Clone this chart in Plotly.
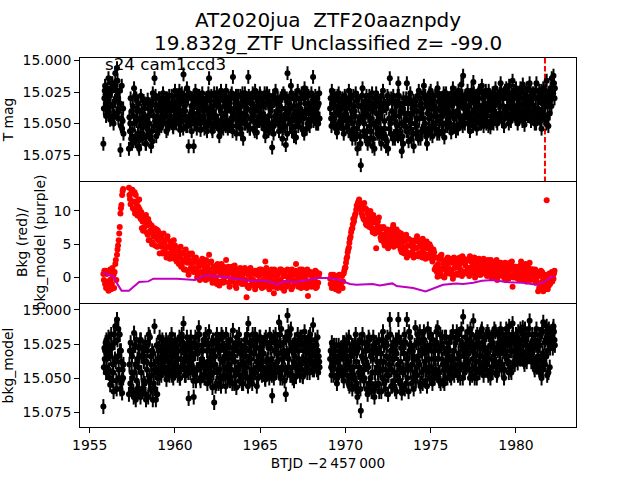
import plotly.graph_objects as go

# observation times (BTJD), first pass, one row per day
btjd = [
 1955.8,1955.9,
 1956.0,1956.1,1956.2,1956.3,1956.4,1956.5,1956.6,1956.7,1956.8,1956.9,
 1957.3,1957.4,1957.5,1957.6,1957.7,1957.8,1957.9,
 1958.0,1958.1,1958.2,1958.3,1958.4,1958.5,1958.6,1958.7,1958.8,1958.9,
 1959.0,1959.1,1959.2,1959.3,1959.4,1959.5,1959.6,1959.7,1959.8,1959.9,
 1960.0,1960.1,1960.2,1960.3,1960.4,1960.5,1960.6,1960.7,1960.8,1960.9,
 1961.0,1961.1,1961.2,1961.3,1961.4,1961.5,1961.6,1961.7,1961.8,1961.9,
 1962.0,1962.1,1962.2,1962.3,1962.4,1962.5,1962.6,1962.7,1962.8,1962.9,
 1963.0,1963.1,1963.2,1963.3,1963.4,1963.5,1963.6,1963.7,1963.8,1963.9,
 1964.0,1964.1,1964.2,1964.3,1964.4,1964.5,1964.6,1964.7,1964.8,1964.9,
 1965.0,1965.1,1965.2,1965.3,1965.4,1965.5,1965.6,1965.7,1965.8,1965.9,
 1966.0,1966.1,1966.2,1966.3,1966.4,1966.5,1966.6,1966.7,1966.8,1966.9,
 1967.0,1967.1,1967.2,1967.3,1967.4,1967.5,1967.6,1967.7,1967.8,1967.9,
 1968.0,1968.1,1968.2,1968.3,1968.4,
 1969.1,1969.2,1969.3,1969.4,1969.5,1969.6,1969.7,1969.8,1969.9,
 1970.0,1970.1,1970.2,1970.3,1970.4,1970.5,1970.6,1970.7,1970.8,1970.9,
 1971.0,1971.1,1971.2,1971.3,1971.4,1971.5,1971.6,1971.7,1971.8,1971.9,
 1972.0,1972.1,1972.2,1972.3,1972.4,1972.5,1972.6,1972.7,1972.8,1972.9,
 1973.0,1973.1,1973.2,1973.3,1973.4,1973.5,1973.6,1973.7,1973.8,1973.9,
 1974.0,1974.1,1974.2,1974.3,1974.4,1974.5,1974.6,1974.7,1974.8,1974.9,
 1975.0,1975.1,1975.2,1975.3,1975.4,1975.5,1975.6,1975.7,1975.8,1975.9,
 1976.0,1976.1,1976.2,1976.3,1976.4,1976.5,1976.6,1976.7,1976.8,1976.9,
 1977.0,1977.1,1977.2,1977.3,1977.4,1977.5,1977.6,1977.7,1977.8,1977.9,
 1978.0,1978.1,1978.2,1978.3,1978.4,1978.5,1978.6,1978.7,1978.8,1978.9,
 1979.0,1979.1,1979.2,1979.3,1979.4,1979.5,1979.6,1979.7,1979.8,1979.9,
 1980.0,1980.1,1980.2,1980.3,1980.4,1980.5,1980.6,1980.7,1980.8,1980.9,
 1981.0,1981.1,1981.2,1981.3,1981.4,1981.5,1981.6,1981.7,1981.8,1981.9,
 1982.0,1982.1,1982.2,
]
# second pass of cadences
btjd_b = [
 1955.83,1955.93,
 1956.03,1956.13,1956.23,1956.33,1956.43,1956.53,1956.63,1956.73,1956.83,1956.93,
 1957.33,1957.43,1957.53,1957.63,1957.73,1957.83,1957.93,
 1958.03,1958.13,1958.23,1958.33,1958.43,1958.53,1958.63,1958.73,1958.83,1958.93,
 1959.03,1959.13,1959.23,1959.33,1959.43,1959.53,1959.63,1959.73,1959.83,1959.93,
 1960.03,1960.13,1960.23,1960.33,1960.43,1960.53,1960.63,1960.73,1960.83,1960.93,
 1961.03,1961.13,1961.23,1961.33,1961.43,1961.53,1961.63,1961.73,1961.83,1961.93,
 1962.03,1962.13,1962.23,1962.33,1962.43,1962.53,1962.63,1962.73,1962.83,1962.93,
 1963.03,1963.13,1963.23,1963.33,1963.43,1963.53,1963.63,1963.73,1963.83,1963.93,
 1964.03,1964.13,1964.23,1964.33,1964.43,1964.53,1964.63,1964.73,1964.83,1964.93,
 1965.03,1965.13,1965.23,1965.33,1965.43,1965.53,1965.63,1965.73,1965.83,1965.93,
 1966.03,1966.13,1966.23,1966.33,1966.43,1966.53,1966.63,1966.73,1966.83,1966.93,
 1967.03,1967.13,1967.23,1967.33,1967.43,1967.53,1967.63,1967.73,1967.83,1967.93,
 1968.03,1968.13,1968.23,1968.33,1968.43,
 1969.13,1969.23,1969.33,1969.43,1969.53,1969.63,1969.73,1969.83,1969.93,
 1970.03,1970.13,1970.23,1970.33,1970.43,1970.53,1970.63,1970.73,1970.83,1970.93,
 1971.03,1971.13,1971.23,1971.33,1971.43,1971.53,1971.63,1971.73,1971.83,1971.93,
 1972.03,1972.13,1972.23,1972.33,1972.43,1972.53,1972.63,1972.73,1972.83,1972.93,
 1973.03,1973.13,1973.23,1973.33,1973.43,1973.53,1973.63,1973.73,1973.83,1973.93,
 1974.03,1974.13,1974.23,1974.33,1974.43,1974.53,1974.63,1974.73,1974.83,1974.93,
 1975.03,1975.13,1975.23,1975.33,1975.43,1975.53,1975.63,1975.73,1975.83,1975.93,
 1976.03,1976.13,1976.23,1976.33,1976.43,1976.53,1976.63,1976.73,1976.83,1976.93,
 1977.03,1977.13,1977.23,1977.33,1977.43,1977.53,1977.63,1977.73,1977.83,1977.93,
 1978.03,1978.13,1978.23,1978.33,1978.43,1978.53,1978.63,1978.73,1978.83,1978.93,
 1979.03,1979.13,1979.23,1979.33,1979.43,1979.53,1979.63,1979.73,1979.83,1979.93,
 1980.03,1980.13,1980.23,1980.33,1980.43,1980.53,1980.63,1980.73,1980.83,1980.93,
 1981.03,1981.13,1981.23,1981.33,1981.43,1981.53,1981.63,1981.73,1981.83,1981.93,
 1982.03,1982.13,1982.23,
]
# third pass of cadences
btjd_c = [
 1955.86,1955.96,
 1956.06,1956.16,1956.26,1956.36,1956.46,1956.56,1956.66,1956.76,1956.86,1956.96,
 1957.36,1957.46,1957.56,1957.66,1957.76,1957.86,1957.96,
 1958.06,1958.16,1958.26,1958.36,1958.46,1958.56,1958.66,1958.76,1958.86,1958.96,
 1959.06,1959.16,1959.26,1959.36,1959.46,1959.56,1959.66,1959.76,1959.86,1959.96,
 1960.06,1960.16,1960.26,1960.36,1960.46,1960.56,1960.66,1960.76,1960.86,1960.96,
 1961.06,1961.16,1961.26,1961.36,1961.46,1961.56,1961.66,1961.76,1961.86,1961.96,
 1962.06,1962.16,1962.26,1962.36,1962.46,1962.56,1962.66,1962.76,1962.86,1962.96,
 1963.06,1963.16,1963.26,1963.36,1963.46,1963.56,1963.66,1963.76,1963.86,1963.96,
 1964.06,1964.16,1964.26,1964.36,1964.46,1964.56,1964.66,1964.76,1964.86,1964.96,
 1965.06,1965.16,1965.26,1965.36,1965.46,1965.56,1965.66,1965.76,1965.86,1965.96,
 1966.06,1966.16,1966.26,1966.36,1966.46,1966.56,1966.66,1966.76,1966.86,1966.96,
 1967.06,1967.16,1967.26,1967.36,1967.46,1967.56,1967.66,1967.76,1967.86,1967.96,
 1968.06,1968.16,1968.26,1968.36,1968.46,
 1969.16,1969.26,1969.36,1969.46,1969.56,1969.66,1969.76,1969.86,1969.96,
 1970.06,1970.16,1970.26,1970.36,1970.46,1970.56,1970.66,1970.76,1970.86,1970.96,
 1971.06,1971.16,1971.26,1971.36,1971.46,1971.56,1971.66,1971.76,1971.86,1971.96,
 1972.06,1972.16,1972.26,1972.36,1972.46,1972.56,1972.66,1972.76,1972.86,1972.96,
 1973.06,1973.16,1973.26,1973.36,1973.46,1973.56,1973.66,1973.76,1973.86,1973.96,
 1974.06,1974.16,1974.26,1974.36,1974.46,1974.56,1974.66,1974.76,1974.86,1974.96,
 1975.06,1975.16,1975.26,1975.36,1975.46,1975.56,1975.66,1975.76,1975.86,1975.96,
 1976.06,1976.16,1976.26,1976.36,1976.46,1976.56,1976.66,1976.76,1976.86,1976.96,
 1977.06,1977.16,1977.26,1977.36,1977.46,1977.56,1977.66,1977.76,1977.86,1977.96,
 1978.06,1978.16,1978.26,1978.36,1978.46,1978.56,1978.66,1978.76,1978.86,1978.96,
 1979.06,1979.16,1979.26,1979.36,1979.46,1979.56,1979.66,1979.76,1979.86,1979.96,
 1980.06,1980.16,1980.26,1980.36,1980.46,1980.56,1980.66,1980.76,1980.86,1980.96,
 1981.06,1981.16,1981.26,1981.36,1981.46,1981.56,1981.66,1981.76,1981.86,1981.96,
 1982.06,1982.16,1982.26,
]
# fourth pass of cadences (black series only)
btjd_d = [
 1955.88,1955.98,
 1956.08,1956.18,1956.28,1956.38,1956.48,1956.58,1956.68,1956.78,1956.88,1956.98,
 1957.38,1957.48,1957.58,1957.68,1957.78,1957.88,1957.98,
 1958.08,1958.18,1958.28,1958.38,1958.48,1958.58,1958.68,1958.78,1958.88,1958.98,
 1959.08,1959.18,1959.28,1959.38,1959.48,1959.58,1959.68,1959.78,1959.88,1959.98,
 1960.08,1960.18,1960.28,1960.38,1960.48,1960.58,1960.68,1960.78,1960.88,1960.98,
 1961.08,1961.18,1961.28,1961.38,1961.48,1961.58,1961.68,1961.78,1961.88,1961.98,
 1962.08,1962.18,1962.28,1962.38,1962.48,1962.58,1962.68,1962.78,1962.88,1962.98,
 1963.08,1963.18,1963.28,1963.38,1963.48,1963.58,1963.68,1963.78,1963.88,1963.98,
 1964.08,1964.18,1964.28,1964.38,1964.48,1964.58,1964.68,1964.78,1964.88,1964.98,
 1965.08,1965.18,1965.28,1965.38,1965.48,1965.58,1965.68,1965.78,1965.88,1965.98,
 1966.08,1966.18,1966.28,1966.38,1966.48,1966.58,1966.68,1966.78,1966.88,1966.98,
 1967.08,1967.18,1967.28,1967.38,1967.48,1967.58,1967.68,1967.78,1967.88,1967.98,
 1968.08,1968.18,1968.28,1968.38,1968.48,
 1969.18,1969.28,1969.38,1969.48,1969.58,1969.68,1969.78,1969.88,1969.98,
 1970.08,1970.18,1970.28,1970.38,1970.48,1970.58,1970.68,1970.78,1970.88,1970.98,
 1971.08,1971.18,1971.28,1971.38,1971.48,1971.58,1971.68,1971.78,1971.88,1971.98,
 1972.08,1972.18,1972.28,1972.38,1972.48,1972.58,1972.68,1972.78,1972.88,1972.98,
 1973.08,1973.18,1973.28,1973.38,1973.48,1973.58,1973.68,1973.78,1973.88,1973.98,
 1974.08,1974.18,1974.28,1974.38,1974.48,1974.58,1974.68,1974.78,1974.88,1974.98,
 1975.08,1975.18,1975.28,1975.38,1975.48,1975.58,1975.68,1975.78,1975.88,1975.98,
 1976.08,1976.18,1976.28,1976.38,1976.48,1976.58,1976.68,1976.78,1976.88,1976.98,
 1977.08,1977.18,1977.28,1977.38,1977.48,1977.58,1977.68,1977.78,1977.88,1977.98,
 1978.08,1978.18,1978.28,1978.38,1978.48,1978.58,1978.68,1978.78,1978.88,1978.98,
 1979.08,1979.18,1979.28,1979.38,1979.48,1979.58,1979.68,1979.78,1979.88,1979.98,
 1980.08,1980.18,1980.28,1980.38,1980.48,1980.58,1980.68,1980.78,1980.88,1980.98,
 1981.08,1981.18,1981.28,1981.38,1981.48,1981.58,1981.68,1981.78,1981.88,1981.98,
 1982.08,1982.18,1982.28,
]

# T mag, thousandths above MAG_ZERO
MAG_ZERO = 15.0
t_mag_milli = [
 66,20,
 32,14,47,24,50,10,6,40,71,54,
 70,30,55,22,64,40,70,
 28,58,38,66,31,50,68,26,14,60,
 45,30,52,26,42,56,34,48,28,53,
 24,46,33,55,26,11,40,22,68,50,
 30,68,24,46,35,55,26,44,31,52,
 14,38,56,26,44,32,60,24,48,36,
 24,54,33,46,13,40,58,28,50,36,
 62,26,44,13,54,30,48,24,57,36,
 28,50,36,60,26,44,32,69,52,24,
 40,56,30,62,46,67,10,34,20,54,
 36,61,24,48,30,55,22,42,34,52,
 26,13,44,30,50,
 38,24,50,30,57,26,44,34,58,
 30,52,24,46,62,36,26,70,48,83,
 22,50,34,66,28,56,40,70,26,48,
 32,66,24,54,38,70,14,46,28,62,
 36,18,58,72,30,48,18,64,26,42,
 68,32,52,24,62,38,20,56,34,46,
 24,60,36,50,22,58,30,44,61,26,
 48,34,57,22,44,28,54,36,19,12,
 50,30,44,56,24,17,38,54,26,46,
 20,52,34,44,24,53,30,42,22,50,
 32,18,44,52,26,38,20,48,16,36,
 22,50,30,42,19,51,28,38,18,46,
 26,50,18,40,30,54,22,44,16,52,
 30,14,12,
]
t_mag_milli_b = [
 38,27,
 22,41,35,18,44,30,16,37,52,48,
 45,62,36,50,30,58,46,
 40,52,34,60,44,36,56,30,48,38,
 36,48,32,44,38,30,50,40,34,46,
 36,28,50,40,30,44,34,52,26,42,
 38,50,32,42,28,48,36,54,30,40,
 46,28,40,52,34,48,30,42,54,28,
 40,30,50,26,44,34,52,38,28,46,
 32,50,38,28,46,34,54,40,28,44,
 42,30,54,34,48,28,40,52,32,46,
 30,48,38,54,28,42,32,50,26,44,
 44,30,52,38,26,46,34,54,28,40,
 38,48,28,42,34,
 30,46,36,52,28,40,50,30,44,
 42,34,56,28,50,40,58,30,46,36,
 38,60,28,44,52,34,62,30,42,54,
 46,28,58,36,64,30,50,40,60,34,
 52,28,40,60,34,46,56,30,50,38,
 40,58,28,46,34,54,30,60,42,26,
 44,30,54,38,26,48,34,56,28,42,
 36,50,26,42,30,52,24,46,34,44,
 28,42,50,32,46,26,48,36,24,40,
 36,46,24,40,30,48,26,36,44,28,
 42,24,36,46,22,44,32,26,40,24,
 38,28,44,24,36,46,22,40,30,44,
 36,24,44,30,48,28,38,24,46,32,
 22,28,18,
]
t_mag_milli_c = [
 30,44,
 40,28,22,36,20,42,30,24,46,38,
 56,40,64,28,48,34,60,
 50,32,46,54,38,62,34,44,28,52,
 30,40,46,36,50,44,28,38,48,32,
 44,38,24,48,34,28,52,30,44,36,
 46,34,50,28,44,32,40,50,38,26,
 32,50,36,46,26,54,38,50,32,44,
 48,36,28,52,30,46,34,42,54,26,
 42,34,52,30,40,26,38,50,32,48,
 36,46,26,50,32,54,36,28,44,34,
 50,36,44,26,52,30,46,38,56,30,
 28,48,36,44,54,30,40,26,48,36,
 44,32,36,50,26,
 46,34,28,42,36,50,32,54,28,
 38,48,34,58,28,44,54,36,60,28,
 46,32,56,38,62,26,50,34,58,36,
 54,40,34,62,28,46,58,32,44,50,
 28,44,62,38,52,30,42,54,34,58,
 34,46,60,30,42,26,50,36,54,30,
 36,50,28,44,56,34,50,26,38,52,
 30,44,36,52,26,40,30,50,28,38,
 42,24,36,46,30,40,28,44,36,50,
 30,40,50,28,36,44,38,28,48,34,
 26,46,30,24,40,28,46,34,30,44,
 30,42,22,36,46,26,34,44,24,36,
 44,30,38,24,42,34,46,30,36,26,
 24,20,30,
]
t_mag_milli_d = [
 24,36,
 26,36,18,44,32,24,46,34,20,58,
 50,66,44,60,38,68,52,
 62,44,66,50,58,40,64,52,36,56,
 54,38,50,42,30,54,44,36,52,40,
 50,34,42,30,54,36,48,28,46,56,
 42,28,54,38,50,30,46,34,56,48,
 40,54,44,30,50,36,56,46,28,52,
 34,52,40,56,38,28,48,44,58,32,
 50,38,30,54,34,44,56,30,48,26,
 50,36,46,28,56,38,50,58,30,42,
 36,52,28,48,38,58,40,30,46,60,
 52,40,46,30,42,58,26,50,38,46,
 32,40,50,36,46,
 52,30,44,54,32,48,38,46,36,
 48,56,30,40,54,62,32,50,66,44,
 56,42,62,32,46,68,36,52,30,60,
 40,58,48,68,34,54,30,62,42,56,
 60,34,50,66,42,56,34,48,62,32,
 50,40,62,36,56,46,28,66,38,58,
 52,38,44,58,32,40,56,36,50,32,
 42,54,32,46,56,34,44,28,52,30,
 36,50,28,42,52,34,44,30,50,24,
 44,28,38,52,32,40,50,34,30,46,
 36,48,26,40,30,50,36,42,24,46,
 44,34,26,48,30,40,44,32,48,28,
 40,50,30,46,24,40,32,50,28,42,
 36,26,22,
]

# background flux (red points)
bkg = [
 0.5,-1.0,
 0.5,-2.0,1.2,-1.0,0.4,2.0,3.4,5.6,9.6,12.4,
 13.5,11.0,13.2,10.2,12.4,9.3,11.7,
 8.8,8.4,7.6,9.4,6.4,8.2,6.8,5.2,7.4,5.9,
 7.0,3.6,6.0,3.8,5.2,3.0,4.6,2.8,5.0,3.6,
 4.8,2.4,4.0,3.0,1.8,3.6,1.2,3.0,0.4,2.2,
 3.6,0.8,2.4,0.0,1.6,-0.2,2.8,1.0,-0.4,1.6,
 3.4,0.4,-0.8,1.4,0.0,2.0,-1.2,1.2,0.2,-0.6,
 2.6,0.2,-1.4,1.0,-0.2,1.8,-1.6,0.6,-0.8,0.8,
 -0.2,1.4,-3.0,0.4,-1.2,1.0,-0.4,-1.8,0.8,-1.0,
 0.4,-1.6,0.8,2.4,-0.6,0.6,-1.2,0.2,-2.4,0.4,
 -1.6,0.8,-0.4,1.0,-2.0,0.2,1.2,-0.6,0.6,-1.4,
 0.4,2.0,-1.0,0.6,-1.6,0.2,1.0,-0.8,-2.8,0.4,
 -1.4,0.6,-0.4,0.8,-0.8,
 -0.2,-1.6,0.4,-1.2,0.2,-2.0,-0.6,0.2,0.6,
 1.5,3.1,4.5,6.1,7.4,8.4,9.6,10.6,11.7,11.0,
 9.2,11.2,8.0,9.6,7.6,9.0,6.8,8.6,4.4,8.4,
 7.0,5.6,6.4,4.8,6.0,4.4,7.0,5.2,7.9,5.8,
 7.2,4.8,6.0,3.8,5.4,4.4,3.0,5.8,3.4,5.0,
 3.0,5.4,6.2,3.6,4.8,3.0,5.2,2.8,4.4,3.2,
 4.6,2.4,3.8,1.6,0.1,2.8,1.0,2.6,0.0,1.8,
 3.0,0.6,2.2,-0.2,1.4,2.8,0.4,3.0,1.0,2.4,
 0.6,2.6,1.4,3.2,0.8,2.0,0.0,2.6,1.0,2.2,
 0.6,2.8,1.2,0.2,2.0,0.8,1.6,0.0,1.8,-0.4,
 1.2,2.2,0.2,1.0,-0.4,1.4,0.0,1.8,-1.4,0.6,
 1.6,-0.2,1.0,2.4,0.2,1.2,-0.6,0.8,2.2,0.4,
 1.2,-0.4,0.8,-2.1,0.2,-1.0,-2.1,0.4,11.6,-0.6,
 -1.0,0.8,-0.2,
]
bkg_b = [
 -0.4,1.0,
 -1.4,0.8,-0.3,1.4,-1.6,2.6,4.2,6.6,10.4,13.0,
 12.4,12.6,10.4,12.8,9.6,11.6,10.2,
 9.8,7.0,9.0,6.8,8.8,5.6,7.8,6.2,4.8,7.2,
 5.6,6.6,4.6,6.6,3.6,5.8,3.6,5.4,3.2,5.6,
 3.2,4.4,2.0,4.6,2.6,1.2,4.2,2.2,3.6,1.4,
 2.2,1.4,3.0,0.4,2.4,0.8,1.8,-0.2,2.6,0.6,
 1.2,2.4,0.6,-0.4,1.8,-0.6,0.8,2.0,-0.8,0.8,
 0.6,1.6,-0.6,1.6,0.4,-1.2,1.2,-0.2,1.4,-1.0,
 0.6,-1.0,0.8,-1.6,1.4,-0.6,0.6,1.0,-1.2,0.2,
 -0.8,0.6,-1.4,0.2,1.0,-1.8,0.6,-0.6,1.2,-1.0,
 0.4,-1.2,1.2,-0.8,0.6,-1.4,0.0,1.0,-1.8,0.6,
 -0.8,0.8,-1.4,1.2,0.0,-1.0,0.6,-1.6,0.8,-0.6,
 0.6,-1.2,1.0,-1.4,0.2,
 -1.0,0.2,-0.8,-1.8,-0.4,0.4,-1.2,-1.6,1.0,
 2.2,3.8,5.2,6.8,8.0,9.0,10.2,11.2,11.3,10.0,
 10.6,8.6,10.2,8.4,9.8,7.4,9.4,6.6,8.2,6.8,
 7.6,6.4,7.6,5.6,7.0,5.6,6.2,6.6,4.6,7.2,
 5.6,6.8,4.2,6.2,3.6,5.6,3.8,4.8,5.6,3.8,
 4.6,3.4,5.6,4.6,3.2,5.8,3.6,4.6,3.0,5.0,
 3.4,3.8,1.2,3.0,2.0,0.4,3.4,1.4,2.4,0.6,
 1.4,2.8,1.0,2.2,0.4,1.6,2.6,1.2,0.2,2.8,
 1.8,0.8,2.8,1.4,2.2,0.6,1.6,1.2,2.8,0.4,
 1.8,1.0,2.2,1.4,0.4,2.6,0.4,2.2,0.8,1.4,
 2.0,0.4,1.6,-0.2,1.8,0.6,2.2,0.2,1.0,1.6,
 0.4,1.4,-0.4,1.2,1.8,0.0,1.6,0.2,1.0,-0.2,
 0.4,1.2,-0.6,0.6,-1.4,0.8,-0.4,-1.4,0.2,-1.2,
 0.4,-0.6,0.6,
]
bkg_c = [
 1.0,-1.6,
 -0.6,1.0,-1.8,0.2,0.8,-0.4,4.8,7.6,10.9,13.3,
 11.8,13.0,11.4,9.6,11.0,10.6,9.0,
 7.4,9.0,8.4,7.8,5.6,7.0,5.0,6.4,6.8,4.6,
 6.4,5.0,3.6,5.6,4.4,6.2,3.2,4.4,3.8,2.8,
 4.2,3.2,3.4,1.6,3.8,2.4,3.2,1.0,2.6,3.4,
 1.2,2.8,1.0,2.0,-0.4,2.2,0.4,2.4,1.0,-0.2,
 2.2,0.0,1.6,0.8,-1.0,1.4,0.4,-0.6,1.6,0.2,
 1.4,-0.8,0.8,-0.6,1.2,0.4,-0.8,1.0,0.0,1.2,
 1.0,-0.4,-1.4,1.2,-0.2,0.6,-1.2,0.4,-0.6,1.2,
 1.2,-0.4,-1.0,1.4,-1.2,0.0,1.2,-1.4,0.8,-0.2,
 -0.6,1.2,-1.6,0.2,1.0,-0.8,-1.0,0.2,1.2,-0.4,
 1.0,-0.4,0.2,-0.6,1.2,-1.4,-0.2,1.2,-1.2,0.8,
 0.0,-0.8,-1.6,0.4,0.6,
 0.4,-0.8,-1.4,0.0,-1.0,-1.4,0.4,-0.6,1.4,
 2.8,4.2,5.8,7.2,8.8,9.4,10.8,11.4,10.6,9.6,
 8.8,10.4,7.8,9.0,10.0,8.2,7.2,8.8,7.6,9.0,
 6.0,7.4,5.2,6.6,7.2,5.0,5.8,7.4,6.4,5.2,
 6.4,5.4,6.6,4.6,4.2,6.4,4.8,3.4,5.0,4.4,
 5.6,4.4,3.2,5.2,3.8,4.4,3.0,5.4,3.4,4.2,
 2.8,4.2,3.0,0.8,1.4,3.2,0.2,2.0,1.2,2.8,
 2.2,1.2,0.4,3.0,2.0,0.6,1.8,2.2,3.2,0.8,
 2.4,1.4,0.2,2.4,1.2,3.0,0.8,2.0,0.4,1.8,
 1.2,2.2,0.6,2.6,1.2,0.0,1.8,1.2,2.6,0.2,
 0.6,1.6,1.0,2.2,0.6,-0.2,1.2,2.4,0.0,0.8,
 1.0,0.4,1.8,0.6,-0.4,2.0,0.6,1.4,-0.4,1.2,
 0.8,-0.8,0.2,-1.6,1.0,-0.6,0.4,-0.8,-1.8,0.6,
 -0.4,0.2,1.0,
]

# background model (purple line)
model_btjd = [1955.8,1956.4,1956.6,1956.87,1957.3,1957.9,1958.44,1958.73,1959.2,1960.1,1961.17,1961.76,
              1962.8,1963.8,1964.4,1965.37,1966.05,1966.35,1967.13,1968.4,1969.08,1969.67,1970.25,1970.64,
              1971.6,1972.0,1972.75,1973.0,1973.97,1974.7,1975.33,1975.72,1976.5,1976.9,1977.5,1978.0,
              1978.65,1979.43,1980.4,1981.2,1981.7,1982.1,1982.27]
model = [0.7,0.1,-0.9,-2.0,-2.0,-0.7,-0.6,-0.2,-0.2,-0.2,-0.4,0.3,
         0.1,-0.3,-0.5,-0.5,-1.1,-0.6,-0.7,-0.1,-0.1,-0.4,-1.0,-1.1,
         -1.0,-1.2,-0.9,-1.3,-1.6,-2.1,-1.5,-1.1,-0.9,-1.0,-0.8,-0.5,
         -0.4,-0.7,-0.8,-1.1,-0.6,0.1,0.0]

# background-subtracted magnitude, thousandths above MAG_ZERO
bkg_model_milli = [
 71,30,
 36,20,55,28,60,12,7,44,58,61,
 62,24,50,17,66,36,58,
 22,60,34,66,26,50,40,66,12,46,
 36,20,48,28,42,51,24,44,18,50,
 22,42,30,50,18,10,38,20,65,46,
 28,64,20,44,13,52,26,40,18,54,
 16,36,57,68,24,46,30,56,20,42,
 18,50,32,44,15,38,57,24,48,30,
 54,22,42,10,50,26,44,18,56,34,
 20,48,32,51,24,42,28,63,50,18,
 38,9,26,50,34,62,4,30,14,50,
 34,49,18,44,26,49,16,38,28,46,
 22,11,40,26,46,
 36,24,48,30,54,26,42,32,52,
 28,48,20,44,58,32,18,64,42,74,
 18,50,30,62,22,54,36,64,24,46,
 28,60,16,52,34,62,7,44,24,58,
 32,7,54,61,26,44,7,60,20,40,
 58,13,48,24,56,32,16,52,28,42,
 18,54,30,44,13,52,26,40,54,20,
 44,30,50,16,40,22,48,34,14,5,
 46,26,38,50,18,8,32,50,20,42,
 14,48,28,40,18,50,24,38,16,46,
 26,14,40,50,20,34,12,44,10,30,
 18,39,24,36,13,40,22,34,8,38,
 22,44,14,36,26,50,9,40,12,46,
 28,18,12,
]
bkg_model_milli_b = [
 42,24,
 24,44,34,52,18,38,22,50,30,44,
 40,58,30,46,22,60,34,
 46,28,54,38,64,20,48,32,58,26,
 28,42,34,24,46,30,38,22,48,32,
 34,26,46,22,40,30,48,26,36,20,
 44,24,52,32,18,42,30,50,22,38,
 30,48,22,40,54,28,44,18,50,34,
 44,24,52,36,28,48,20,42,32,54,
 30,48,18,38,24,54,32,46,22,40,
 42,26,46,20,36,50,24,40,30,46,
 24,46,14,36,52,22,42,18,48,28,
 22,40,30,48,20,36,44,24,32,18,
 38,30,22,44,34,
 30,44,26,38,50,34,28,46,24,
 40,24,56,34,26,50,38,60,22,46,
 36,24,58,42,30,60,20,46,32,54,
 44,22,38,58,26,48,18,56,36,30,
 48,20,38,56,32,24,50,16,44,30,
 36,52,18,40,30,54,22,44,14,50,
 42,22,50,16,36,46,28,52,20,38,
 28,48,20,36,44,16,32,50,24,42,
 20,40,32,14,48,26,44,18,38,28,
 34,22,44,16,36,26,46,14,40,30,
 38,28,18,44,14,38,24,46,18,40,
 28,16,36,22,32,14,38,18,30,24,
 36,18,42,26,46,16,34,22,48,14,
 20,24,16,
]
bkg_model_milli_c = [
 28,46,
 46,32,18,40,24,52,34,18,38,50,
 30,46,60,26,52,42,22,
 34,52,24,44,18,58,30,54,38,62,
 44,30,22,38,34,46,30,26,40,42,
 40,48,20,36,28,44,30,42,24,34,
 36,46,28,18,40,30,48,22,44,26,
 42,24,46,34,18,54,36,26,48,30,
 26,40,22,54,34,46,30,18,40,48,
 40,28,50,24,36,18,46,28,42,20,
 30,42,22,38,46,18,36,44,24,32,
 44,18,36,24,44,32,16,48,28,38,
 42,26,36,20,38,30,24,46,20,36,
 30,44,34,20,38,
 42,32,38,26,44,36,30,24,44,
 22,38,30,50,42,24,54,28,48,34,
 44,30,40,20,50,32,26,56,38,22,
 38,50,26,44,20,40,30,36,52,22,
 22,42,28,46,18,54,36,30,28,50,
 26,42,34,16,46,22,38,30,46,20,
 30,44,36,24,46,18,36,28,44,30,
 36,20,42,30,24,46,18,40,28,34,
 32,16,44,24,36,42,20,28,46,16,
 24,38,18,32,46,20,34,28,42,18,
 20,44,30,24,36,18,42,30,22,36,
 34,24,14,30,20,36,26,14,34,18,
 28,40,24,44,18,32,40,16,30,24,
 16,28,22,
]
bkg_model_milli_d = [
 36,22,
 30,50,26,46,36,58,14,30,52,40,
 54,34,64,40,58,28,64,
 58,38,62,30,52,34,60,44,66,50,
 50,36,44,30,22,38,48,34,26,46,
 28,36,50,42,24,48,34,46,30,40,
 52,32,44,26,50,36,22,42,30,48,
 52,36,30,56,44,22,50,38,28,56,
 36,50,44,28,54,24,42,52,26,38,
 46,34,56,30,44,50,22,38,50,28,
 36,24,50,44,28,40,48,20,42,26,
 32,50,42,30,20,46,36,24,42,52,
 28,44,22,40,48,24,30,42,36,26,
 44,26,38,30,42,
 48,38,30,50,34,42,48,36,30,
 34,54,42,26,48,56,30,46,58,24,
 52,40,26,54,34,46,58,30,42,60,
 32,44,54,24,48,36,56,28,46,60,
 40,52,24,44,58,36,42,26,54,34,
 46,24,38,54,22,44,28,56,36,26,
 50,36,26,48,30,54,20,44,32,50,
 24,42,34,48,20,36,44,26,50,30,
 40,28,22,44,30,50,38,24,34,44,
 42,30,36,48,26,42,18,32,48,24,
 32,22,44,34,26,46,30,20,38,24,
 22,34,30,16,38,26,18,32,28,36,
 42,26,34,18,38,44,24,34,20,42,
 24,14,26,
]

MAG_ERR = 0.0055
event_btjd = 1981.7
x_ticks = [1955,1960,1965,1970,1975,1980]
mag_ticks = [15.000,15.025,15.050,15.075]
bkg_ticks = [0,5,10]
title_line1 = "AT2020jua  ZTF20aaznpdy"
title_line2 = "19.832g_ZTF Unclassified z= -99.0"
sector_text = "s24 cam1ccd3"

red_times = btjd + btjd_b + btjd_c
black_times = red_times + btjd_d
t_mag = [MAG_ZERO + v/1000 for v in t_mag_milli + t_mag_milli_b + t_mag_milli_c + t_mag_milli_d]
bkg_all = bkg + bkg_b + bkg_c
bkg_mag = [MAG_ZERO + v/1000 for v in bkg_model_milli + bkg_model_milli_b + bkg_model_milli_c + bkg_model_milli_d]

FONT = "DejaVu Sans"
TICK = dict(showgrid=False, zeroline=False, showline=True, linecolor="black", linewidth=1, mirror=True,
            ticks="outside", ticklen=5, tickwidth=1, tickcolor="black", automargin=False)
NOTICK = {**TICK, "ticks": ""}
ERR = dict(type="constant", value=MAG_ERR, color="black", thickness=2, width=0)

fig = go.Figure()
fig.add_trace(go.Scatter(x=[event_btjd,event_btjd], y=[14.998,15.0955], mode="lines", xaxis="x", yaxis="y",
                         line=dict(color="#ff0000", width=2, dash="5.5px,2.4px")))
fig.add_trace(go.Scatter(x=black_times, y=t_mag, mode="markers", xaxis="x", yaxis="y",
                         marker=dict(color="black", size=6), error_y=ERR))
fig.add_trace(go.Scatter(x=red_times, y=bkg_all, mode="markers", xaxis="x2", yaxis="y2", marker=dict(color="#ff0000", size=6)))
fig.add_trace(go.Scatter(x=model_btjd, y=model, mode="lines", xaxis="x2", yaxis="y2", line=dict(color="#bf00bf", width=2)))
fig.add_trace(go.Scatter(x=black_times, y=bkg_mag, mode="markers", xaxis="x3", yaxis="y3",
                         marker=dict(color="black", size=6), error_y=ERR))

XR = [1954.43,1983.52]
fig.update_layout(
    width=640, height=480, autosize=False, showlegend=False,
    paper_bgcolor="white", plot_bgcolor="white",
    margin=dict(l=80, r=64, t=58, b=53),
    font=dict(family=FONT, size=13.9, color="black"),
    title=dict(text=title_line1, x=0.5125, xanchor="center", y=0.973, yanchor="top", font=dict(size=20, family=FONT)),
    xaxis=dict(domain=[0,1], range=XR, anchor="y", showticklabels=False, **NOTICK),
    xaxis2=dict(domain=[0,1], range=XR, anchor="y2", matches="x", showticklabels=False, **{**NOTICK, "showline": False, "mirror": False}),
    xaxis3=dict(domain=[0,1], range=XR, anchor="y3", matches="x", tickvals=x_ticks, tickformat="d",
                title=dict(text="BTJD \u22122\u2009457\u2009000", standoff=6, font=dict(size=13.7)), **TICK),
    yaxis=dict(domain=[2/3,1], range=[15.0955,14.998], anchor="x", tickvals=mag_ticks, tickformat=".3f",
               title=dict(text="T mag", standoff=8, font=dict(size=13.9)), **TICK),
    yaxis2=dict(domain=[1/3,2/3], range=[-4,14.5], anchor="x2", tickvals=bkg_ticks,
                title=dict(text="Bkg (red)/<br>bkg_model (purple)", standoff=4, font=dict(size=13.9)), **TICK),
    yaxis3=dict(domain=[0,1/3], range=[15.086,14.9956], anchor="x3", tickvals=mag_ticks, tickformat=".3f",
                title=dict(text="bkg_model", standoff=7, font=dict(size=13.9)), **TICK),
    annotations=[
        dict(text=sector_text, x=1955.9, y=15.0028, xref="x", yref="y", xanchor="left", yanchor="middle",
             showarrow=False, font=dict(size=16.7, family=FONT, color="black"), xshift=-2),
        dict(text=title_line2, x=0.5, y=1.0407, xref="paper", yref="paper", xanchor="center", yanchor="middle",
             showarrow=False, font=dict(size=20, family=FONT, color="black")),
    ],
)
fig.write_html("out.html", config={"displayModeBar": False}, post_script="document.body.style.margin='0';")
